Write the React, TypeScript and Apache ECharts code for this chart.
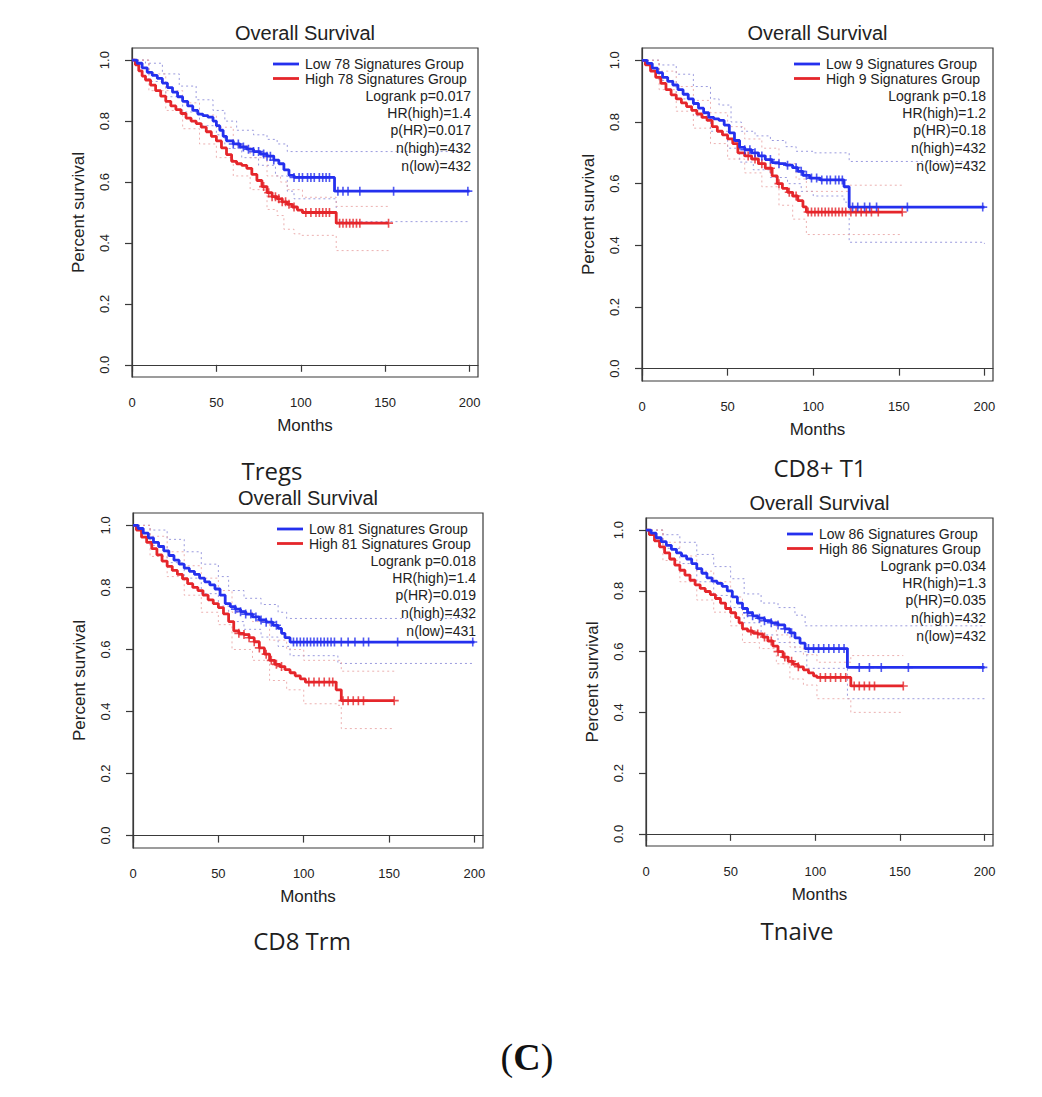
import React, { useEffect, useRef } from "react";
import * as echarts from "echarts";

type Pt = [number, number];

// ---------- tick labels / texts ----------
const xTicks = [0, 50, 100, 150, 200];
const yTicks = [0, 0.2, 0.4, 0.6, 0.8, 1.0];
const panelNames = ["Tregs", "CD8+ T1", "CD8 Trm", "Tnaive"];
const signatureCounts = [78, 9, 81, 86];
const logrankP = ["0.017", "0.18", "0.018", "0.034"];
const hrHigh = ["1.4", "1.2", "1.4", "1.3"];
const pHR = ["0.017", "0.18", "0.019", "0.035"];
const nHigh = [432, 432, 432, 432];
const nLow = [432, 432, 431, 432];

// ---------- Tregs ----------
const tregsLow: Pt[] = [[0,1],[3,0.99],[6,0.975],[9,0.96],[12,0.95],[15,0.94],[18,0.925],[21,0.91],[24,0.895],[27,0.88],[30,0.865],[33,0.85],[36,0.835],[39,0.823],[42,0.818],[45,0.813],[48,0.8],[50,0.785],[52,0.77],[54,0.75],[56,0.735],[60,0.725],[64,0.715],[68,0.708],[72,0.7],[76,0.692],[80,0.685],[84,0.672],[87,0.66],[90,0.64],[93,0.622],[96,0.615],[120,0.57],[200,0.57]];
const tregsHigh: Pt[] = [[0,1],[2,0.985],[4,0.965],[6,0.948],[8,0.935],[11,0.918],[14,0.9],[17,0.882],[20,0.865],[23,0.85],[26,0.838],[29,0.825],[32,0.81],[35,0.8],[38,0.792],[41,0.78],[44,0.765],[47,0.75],[50,0.735],[53,0.712],[56,0.69],[59,0.668],[62,0.66],[65,0.655],[68,0.645],[71,0.625],[74,0.605],[77,0.585],[80,0.565],[83,0.552],[86,0.545],[89,0.535],[92,0.527],[95,0.518],[98,0.508],[101,0.5],[121,0.465],[152,0.465]];
const tregsLowCens = [60,63,66,69,72,75,78,80,82,84,96,99,101,104,106,108,111,113,115,117,122,125,128,135,155,199];
const tregsHighCens = [78,81,83,85,87,89,91,93,96,103,106,109,111,113,115,117,123,125,127,129,131,133,135,152];
const tregsLowUp: Pt[] = [[0,1],[8,0.99],[18,0.955],[28,0.915],[38,0.87],[48,0.835],[55,0.8],[62,0.77],[72,0.755],[80,0.74],[86,0.725],[92,0.7],[200,0.695]];
const tregsLowLo: Pt[] = [[0,1],[10,0.93],[20,0.88],[30,0.83],[40,0.785],[50,0.755],[55,0.71],[65,0.68],[75,0.655],[85,0.62],[92,0.57],[96,0.545],[121,0.47],[200,0.47]];
const tregsHighUp: Pt[] = [[0,1],[10,0.955],[20,0.9],[30,0.86],[40,0.82],[50,0.78],[60,0.72],[70,0.68],[80,0.62],[88,0.6],[92,0.575],[101,0.55],[121,0.52],[152,0.52]];
const tregsHighLo: Pt[] = [[0,1],[10,0.9],[20,0.835],[30,0.775],[40,0.725],[50,0.68],[60,0.62],[70,0.575],[80,0.51],[86,0.49],[90,0.445],[96,0.43],[100,0.425],[121,0.375],[152,0.375]];

// ---------- CD8+ T1 ----------
const t1Low: Pt[] = [[0,1],[3,0.99],[6,0.975],[9,0.96],[12,0.945],[15,0.932],[18,0.92],[21,0.905],[24,0.89],[27,0.875],[30,0.86],[33,0.845],[36,0.83],[39,0.815],[42,0.81],[45,0.805],[48,0.79],[51,0.765],[54,0.74],[57,0.718],[60,0.71],[64,0.7],[68,0.69],[72,0.678],[76,0.668],[80,0.665],[84,0.66],[88,0.652],[91,0.64],[94,0.627],[98,0.618],[104,0.612],[118,0.59],[121,0.524],[200,0.524]];
const t1High: Pt[] = [[0,1],[2,0.985],[5,0.965],[8,0.945],[11,0.925],[14,0.905],[17,0.888],[20,0.875],[23,0.862],[26,0.85],[29,0.838],[32,0.826],[35,0.815],[38,0.805],[41,0.785],[44,0.77],[47,0.758],[50,0.745],[53,0.73],[56,0.7],[60,0.69],[64,0.68],[68,0.665],[72,0.65],[76,0.625],[79,0.6],[82,0.585],[85,0.572],[88,0.56],[91,0.545],[94,0.525],[96,0.508],[152,0.508]];
const t1LowCens = [60,63,66,70,75,80,85,90,93,96,99,102,105,108,110,113,115,117,123,126,130,133,137,155,199];
const t1HighCens = [62,66,70,75,80,86,90,97,99,101,103,105,107,109,111,113,115,117,119,122,125,128,131,134,138,152];
const t1LowUp: Pt[] = [[0,1],[10,0.985],[20,0.955],[30,0.915],[40,0.875],[45,0.855],[52,0.8],[58,0.77],[66,0.755],[75,0.74],[84,0.72],[90,0.705],[100,0.7],[121,0.672],[200,0.672]];
const t1LowLo: Pt[] = [[0,1],[10,0.935],[20,0.875],[30,0.82],[40,0.77],[50,0.715],[57,0.67],[65,0.645],[75,0.62],[85,0.6],[93,0.575],[100,0.56],[118,0.54],[121,0.41],[200,0.405]];
const t1HighUp: Pt[] = [[0,1],[10,0.965],[20,0.915],[30,0.87],[40,0.83],[50,0.785],[60,0.745],[70,0.715],[80,0.665],[90,0.615],[96,0.575],[121,0.595],[152,0.595]];
const t1HighLo: Pt[] = [[0,1],[10,0.905],[20,0.835],[30,0.78],[40,0.73],[50,0.68],[60,0.635],[70,0.59],[80,0.53],[88,0.485],[96,0.435],[152,0.435]];

// ---------- CD8 Trm ----------
const trmLow: Pt[] = [[0,1],[3,0.99],[6,0.975],[9,0.96],[12,0.945],[15,0.932],[18,0.918],[21,0.903],[24,0.888],[27,0.875],[30,0.862],[33,0.852],[36,0.842],[39,0.83],[42,0.818],[45,0.808],[48,0.795],[51,0.775],[54,0.748],[57,0.738],[60,0.73],[63,0.722],[66,0.714],[70,0.705],[74,0.695],[78,0.688],[82,0.678],[85,0.668],[87,0.652],[89,0.638],[92,0.624],[200,0.622]];
const trmHigh: Pt[] = [[0,1],[2,0.985],[5,0.962],[8,0.945],[11,0.925],[14,0.905],[17,0.885],[20,0.868],[23,0.855],[26,0.842],[29,0.828],[32,0.812],[35,0.8],[38,0.79],[41,0.775],[44,0.76],[47,0.748],[50,0.735],[53,0.715],[56,0.69],[59,0.66],[62,0.652],[65,0.648],[68,0.638],[71,0.625],[74,0.605],[77,0.585],[80,0.565],[83,0.552],[86,0.545],[89,0.535],[92,0.525],[95,0.515],[98,0.505],[101,0.495],[119,0.47],[122,0.435],[153,0.435]];
const trmLowCens = [60,63,66,69,72,75,78,81,84,94,96,98,100,102,104,106,108,110,112,114,116,118,122,126,130,135,138,155,199];
const trmHighCens = [62,65,68,71,74,78,81,84,87,103,106,109,112,115,117,123,126,129,132,135,153];
const trmLowUp: Pt[] = [[0,1],[10,0.985],[20,0.955],[30,0.915],[40,0.875],[50,0.835],[56,0.79],[65,0.765],[75,0.745],[85,0.72],[90,0.7],[200,0.7]];
const trmLowLo: Pt[] = [[0,1],[10,0.935],[20,0.88],[30,0.83],[40,0.78],[50,0.74],[56,0.69],[65,0.665],[75,0.64],[85,0.61],[92,0.58],[120,0.555],[200,0.555]];
const trmHighUp: Pt[] = [[0,1],[10,0.965],[20,0.915],[30,0.87],[40,0.83],[50,0.79],[58,0.72],[70,0.69],[80,0.63],[90,0.6],[100,0.565],[122,0.53],[153,0.53]];
const trmHighLo: Pt[] = [[0,1],[10,0.9],[20,0.835],[30,0.775],[40,0.72],[50,0.68],[58,0.6],[70,0.565],[80,0.5],[90,0.47],[100,0.425],[120,0.42],[122,0.345],[153,0.345]];

// ---------- Tnaive ----------
const naiveLow: Pt[] = [[0,1],[3,0.99],[6,0.975],[9,0.962],[12,0.95],[15,0.937],[18,0.925],[21,0.915],[24,0.905],[27,0.89],[30,0.873],[33,0.858],[36,0.843],[39,0.832],[42,0.825],[45,0.815],[48,0.8],[51,0.78],[54,0.76],[57,0.742],[60,0.728],[63,0.718],[66,0.71],[70,0.702],[74,0.695],[78,0.688],[82,0.675],[85,0.662],[88,0.645],[91,0.628],[94,0.61],[119,0.548],[200,0.548]];
const naiveHigh: Pt[] = [[0,1],[2,0.985],[5,0.965],[8,0.945],[11,0.925],[14,0.905],[17,0.885],[20,0.868],[23,0.852],[26,0.835],[29,0.82],[32,0.808],[35,0.798],[38,0.788],[41,0.775],[44,0.76],[47,0.742],[50,0.728],[53,0.712],[55,0.695],[57,0.675],[60,0.668],[63,0.662],[66,0.658],[69,0.648],[72,0.635],[75,0.618],[78,0.6],[81,0.582],[84,0.568],[87,0.558],[90,0.55],[93,0.54],[96,0.53],[99,0.52],[101,0.515],[121,0.487],[152,0.487]];
const naiveLowCens = [60,63,67,70,74,78,82,86,96,99,102,105,108,111,114,117,126,132,139,155,199];
const naiveHighCens = [62,66,70,74,78,82,86,90,103,106,109,112,115,118,123,126,129,132,135,152];
const naiveLowUp: Pt[] = [[0,1],[10,0.985],[20,0.96],[30,0.92],[40,0.88],[50,0.84],[58,0.79],[68,0.76],[78,0.745],[88,0.72],[94,0.685],[200,0.685]];
const naiveLowLo: Pt[] = [[0,1],[10,0.94],[20,0.89],[30,0.83],[40,0.785],[50,0.745],[58,0.695],[68,0.655],[78,0.63],[88,0.6],[95,0.545],[119,0.445],[200,0.44]];
const naiveHighUp: Pt[] = [[0,1],[10,0.96],[20,0.915],[30,0.865],[40,0.83],[50,0.78],[57,0.72],[67,0.7],[77,0.655],[85,0.615],[93,0.59],[101,0.565],[121,0.587],[152,0.587]];
const naiveHighLo: Pt[] = [[0,1],[10,0.9],[20,0.83],[30,0.77],[40,0.73],[50,0.685],[57,0.63],[67,0.61],[77,0.56],[85,0.51],[93,0.49],[101,0.445],[121,0.4],[152,0.4]];

const panels = [
  { low: tregsLow, high: tregsHigh, lowCens: tregsLowCens, highCens: tregsHighCens, lowUp: tregsLowUp, lowLo: tregsLowLo, highUp: tregsHighUp, highLo: tregsHighLo },
  { low: t1Low, high: t1High, lowCens: t1LowCens, highCens: t1HighCens, lowUp: t1LowUp, lowLo: t1LowLo, highUp: t1HighUp, highLo: t1HighLo },
  { low: trmLow, high: trmHigh, lowCens: trmLowCens, highCens: trmHighCens, lowUp: trmLowUp, lowLo: trmLowLo, highUp: trmHighUp, highLo: trmHighLo },
  { low: naiveLow, high: naiveHigh, lowCens: naiveLowCens, highCens: naiveHighCens, lowUp: naiveLowUp, lowLo: naiveLowLo, highUp: naiveHighUp, highLo: naiveHighLo },
];

// ---------- layout (pixels) ----------
const boxes = [
  { left: 132, top: 48, width: 346, height: 329, legendStart: 173 },
  { left: 642, top: 48, width: 351, height: 333, legendStart: 167 },
  { left: 133, top: 513, width: 350, height: 335, legendStart: 174 },
  { left: 646, top: 518, width: 347, height: 328, legendStart: 174 },
];
const labelPos: Pt[] = [[272, 470], [820, 467], [302, 940], [797, 930]];
const legendRows = [16, 30.5, 48, 65, 82, 100, 118];

const BLUE = "#2430ee";
const RED = "#e5262b";
const BLUE_CI = "#8a8ad8";
const RED_CI = "#e9a3a3";
const AXIS = "#3a3a3a";
const TEXT = "#222222";
const FONT = '"Liberation Sans", Arial, sans-serif';
const SERIF = '"Liberation Serif", "Times New Roman", serif';

const plusSymbol = "path://M0,4.1H10V5.9H0ZM4.1,0H5.9V10H4.1Z";

function survAt(curve: Pt[], t: number): number {
  let s = curve[0][1];
  for (const p of curve) {
    if (p[0] <= t) s = p[1];
    else break;
  }
  return s;
}

function buildOption() {
  const grid: any[] = [];
  const xAxis: any[] = [];
  const yAxis: any[] = [];
  const series: any[] = [];
  const graphic: any[] = [];

  boxes.forEach((b, i) => {
    grid.push({
      left: b.left, top: b.top, width: b.width, height: b.height,
      show: true, borderColor: AXIS, borderWidth: 1.2, backgroundColor: "transparent",
    });
    xAxis.push({
      gridIndex: i, type: "value", min: 0, max: 205,
      name: "Months", nameLocation: "middle", nameGap: 40,
      nameTextStyle: { fontFamily: FONT, fontSize: 17, color: TEXT },
      axisLine: { show: true, lineStyle: { color: AXIS, width: 1.2 } },
      axisTick: { show: true, length: 7, lineStyle: { color: AXIS, width: 1.2 }, customValues: xTicks },
      axisLabel: { fontFamily: FONT, fontSize: 13, color: TEXT, margin: 19, customValues: xTicks, formatter: (v: number) => String(v) },
      splitLine: { show: false },
    });
    yAxis.push({
      gridIndex: i, type: "value", min: -0.04, max: 1.04,
      name: "Percent survival", nameLocation: "middle", nameGap: 45, nameRotate: 90,
      nameTextStyle: { fontFamily: FONT, fontSize: 17, color: TEXT },
      axisLine: { show: true, lineStyle: { color: AXIS, width: 1.2 } },
      axisTick: { show: true, length: 7, lineStyle: { color: AXIS, width: 1.2 }, customValues: yTicks },
      axisLabel: { fontFamily: FONT, fontSize: 13, color: TEXT, margin: 21, rotate: 90, customValues: yTicks, formatter: (v: number) => v.toFixed(1) },
      splitLine: { show: false },
    });

    const p = panels[i];
    const ci = (data: Pt[], color: string, name: string) => ({
      type: "line", name, xAxisIndex: i, yAxisIndex: i, data, step: "end",
      showSymbol: false, silent: true, z: 1,
      lineStyle: { color, width: 1, type: [2, 3], opacity: 0.85 },
    });
    series.push(ci(p.lowUp, BLUE_CI, `low-up-${i}`));
    series.push(ci(p.lowLo, BLUE_CI, `low-lo-${i}`));
    series.push(ci(p.highUp, RED_CI, `high-up-${i}`));
    series.push(ci(p.highLo, RED_CI, `high-lo-${i}`));
    series.push({
      type: "line", name: `High ${signatureCounts[i]} Signatures Group`, xAxisIndex: i, yAxisIndex: i,
      data: p.high, step: "end", showSymbol: false, z: 3,
      lineStyle: { color: RED, width: 2.8 },
    });
    series.push({
      type: "line", name: `Low ${signatureCounts[i]} Signatures Group`, xAxisIndex: i, yAxisIndex: i,
      data: p.low, step: "end", showSymbol: false, z: 4,
      lineStyle: { color: BLUE, width: 2.8 },
    });
    series.push({
      type: "scatter", xAxisIndex: i, yAxisIndex: i, z: 5,
      data: p.highCens.map((t) => [t, survAt(p.high, t)]),
      symbol: plusSymbol, symbolSize: 9, itemStyle: { color: RED },
    });
    series.push({
      type: "scatter", xAxisIndex: i, yAxisIndex: i, z: 6,
      data: p.lowCens.map((t) => [t, survAt(p.low, t)]),
      symbol: plusSymbol, symbolSize: 9, itemStyle: { color: BLUE },
    });

    const right = b.left + b.width;
    const cx = b.left + b.width / 2;
    graphic.push({
      type: "text", z: 10,
      style: { text: "Overall Survival", x: cx, y: b.top - 15, align: "center", verticalAlign: "middle", fontFamily: FONT, fontSize: 20, fill: TEXT },
    });
    const legX = right - b.legendStart;
    graphic.push({ type: "line", z: 10, shape: { x1: legX - 32, y1: b.top + legendRows[0], x2: legX - 6, y2: b.top + legendRows[0] }, style: { stroke: BLUE, lineWidth: 2.8 } });
    graphic.push({ type: "line", z: 10, shape: { x1: legX - 32, y1: b.top + legendRows[1], x2: legX - 6, y2: b.top + legendRows[1] }, style: { stroke: RED, lineWidth: 2.8 } });
    const leftTexts = [`Low ${signatureCounts[i]} Signatures Group`, `High ${signatureCounts[i]} Signatures Group`];
    leftTexts.forEach((t, k) => {
      graphic.push({ type: "text", z: 10, style: { text: t, x: legX, y: b.top + legendRows[k], align: "left", verticalAlign: "middle", fontFamily: FONT, fontSize: 14, fill: TEXT } });
    });
    const stats = [`Logrank p=${logrankP[i]}`, `HR(high)=${hrHigh[i]}`, `p(HR)=${pHR[i]}`, `n(high)=${nHigh[i]}`, `n(low)=${nLow[i]}`];
    stats.forEach((t, k) => {
      graphic.push({ type: "text", z: 10, style: { text: t, x: right - 7, y: b.top + legendRows[k + 2], align: "right", verticalAlign: "middle", fontFamily: FONT, fontSize: 14, fill: TEXT } });
    });
    graphic.push({
      type: "text", z: 10,
      style: { text: panelNames[i], x: labelPos[i][0], y: labelPos[i][1], align: "center", verticalAlign: "middle", fontFamily: '"Open Sans", "Noto Sans", sans-serif', fontSize: 24, fill: "#1e1e1e" },
    });
  });

  graphic.push({
    type: "text", z: 10,
    style: {
      text: "{a|(}{b|C}{a|)}", x: 527, y: 1057, align: "center", verticalAlign: "middle",
      fontFamily: SERIF, fontSize: 38, fontWeight: "normal", fill: "#111",
      rich: {
        a: { fontFamily: SERIF, fontSize: 38, fontWeight: "normal", fill: "#111" },
        b: { fontFamily: SERIF, fontSize: 38, fontWeight: "bold", fill: "#111" },
      },
    },
  });

  return { animation: false, backgroundColor: "#ffffff", grid, xAxis, yAxis, series, graphic };
}

export default function App() {
  const ref = useRef<HTMLDivElement>(null);
  useEffect(() => {
    if (!ref.current) return;
    const chart = echarts.init(ref.current, undefined, { renderer: "svg" });
    chart.setOption(buildOption() as any);
    return () => chart.dispose();
  }, []);
  return (
    <div
      ref={ref}
      style={{ position: "absolute", left: 0, top: 0, width: 1042, height: 1097, background: "#fff" }}
    />
  );
}
